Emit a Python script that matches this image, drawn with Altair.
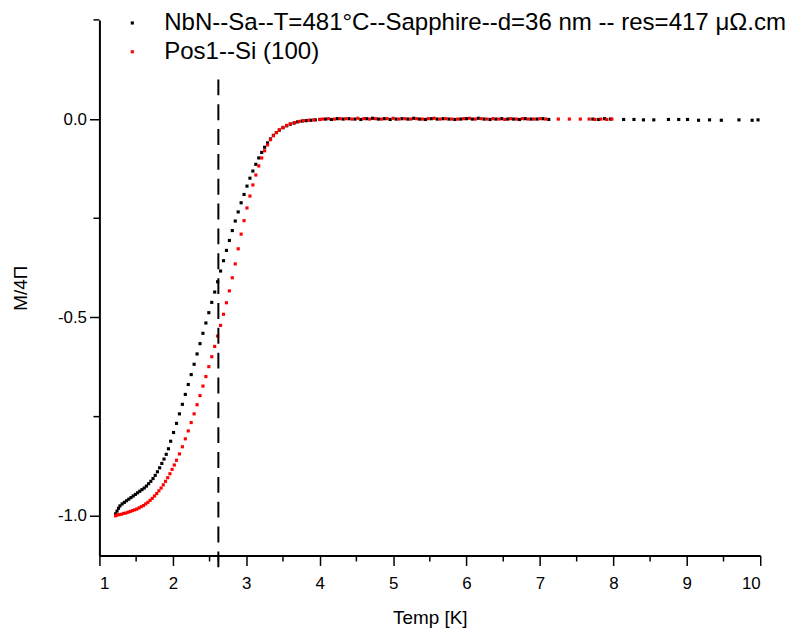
import altair as alt
import pandas as pd

LABEL_BLACK = "NbN--Sa--T=481°C--Sapphire--d=36 nm -- res=417 μΩ.cm"
LABEL_RED = "Pos1--Si (100)"

# ---- black series (NbN on sapphire) ----
black_T = [
    1.22, 1.24, 1.26, 1.28,
    1.31, 1.34, 1.37, 1.40, 1.43, 1.46, 1.49, 1.52, 1.55, 1.58,
    1.61, 1.64, 1.67, 1.70, 1.73, 1.76, 1.79, 1.82, 1.85, 1.88,
    1.91, 1.94, 1.97,
    2.01, 2.05, 2.09, 2.13, 2.17, 2.21, 2.25, 2.29, 2.33, 2.37,
    2.41, 2.45, 2.49, 2.53, 2.57, 2.61, 2.65, 2.69, 2.73, 2.77,
    2.81, 2.85, 2.89, 2.93, 2.97, 3.01, 3.05, 3.09, 3.13, 3.17,
    3.21, 3.25, 3.29, 3.33, 3.37, 3.41, 3.45,
    3.50, 3.55, 3.60, 3.65, 3.70, 3.76, 3.82, 3.88, 3.94, 4.00,
    4.08, 4.16, 4.24, 4.32, 4.40, 4.48, 4.56, 4.64, 4.72, 4.80,
    4.88, 4.96, 5.04, 5.12, 5.20, 5.28, 5.36, 5.44, 5.52, 5.60,
    5.68, 5.76, 5.84, 5.92, 6.00, 6.08, 6.16, 6.24, 6.32, 6.40,
    6.48, 6.56, 6.64, 6.72, 6.80, 6.88, 6.96, 7.04, 7.12,
    7.72, 7.80, 7.88, 7.96, 8.14, 8.28, 8.41, 8.55, 8.75, 8.89,
    9.01, 9.16, 9.31, 9.47, 9.71, 9.89, 9.97,
]
black_M = [
    -0.995, -0.988, -0.981, -0.975,
    -0.970, -0.966, -0.962, -0.958, -0.954, -0.950, -0.946, -0.942, -0.938, -0.934,
    -0.930, -0.925, -0.919, -0.913, -0.906, -0.898, -0.889, -0.879, -0.868, -0.857,
    -0.845, -0.831, -0.812,
    -0.790, -0.767, -0.743, -0.719, -0.694, -0.669, -0.644, -0.618, -0.592, -0.566,
    -0.540, -0.514, -0.488, -0.462, -0.436, -0.410, -0.383, -0.357, -0.331, -0.306,
    -0.281, -0.257, -0.234, -0.211, -0.190, -0.169, -0.149, -0.131, -0.114, -0.098,
    -0.084, -0.071, -0.060, -0.050, -0.041, -0.034, -0.028,
    -0.022, -0.017, -0.013, -0.010, -0.007, -0.005, -0.004, -0.003, -0.002, -0.001,
    0.000, -0.001, 0.001, 0.000, 0.001, 0.000, -0.001, 0.001, 0.002, 0.000,
    0.001, -0.001, 0.000, 0.001, 0.000, 0.002, 0.000, -0.001, 0.001, 0.000,
    0.001, 0.000, -0.001, 0.000, 0.001, 0.000, 0.002, 0.000, -0.001, 0.000,
    0.001, 0.000, 0.000, -0.001, 0.001, 0.000, 0.000, 0.001, -0.001,
    0.000, -0.001, 0.001, 0.000, -0.001, -0.001, -0.002, -0.002, -0.001, -0.001,
    -0.001, -0.003, -0.002, -0.003, -0.002, -0.003, -0.002,
]

# ---- red series (Pos1 on Si (100)) ----
red_T = [
    1.22, 1.24, 1.27,
    1.30, 1.33, 1.36, 1.39, 1.42, 1.45, 1.48, 1.51, 1.54, 1.57,
    1.60, 1.63, 1.66, 1.69, 1.72, 1.75, 1.78, 1.81, 1.84, 1.87,
    1.90, 1.93, 1.96, 1.99, 2.02, 2.05,
    2.09, 2.13, 2.17, 2.21, 2.25, 2.29, 2.33, 2.37, 2.41, 2.45,
    2.49, 2.53, 2.57, 2.61, 2.65, 2.69, 2.73, 2.77, 2.81, 2.85,
    2.89, 2.93, 2.97, 3.01, 3.05, 3.09, 3.13, 3.17, 3.21, 3.25,
    3.29, 3.33, 3.37, 3.41, 3.45,
    3.50, 3.55, 3.60, 3.66, 3.72, 3.78, 3.85, 3.92, 4.00,
    4.04, 4.12, 4.20, 4.28, 4.36, 4.44, 4.52, 4.60, 4.68, 4.76,
    4.84, 4.92, 5.00, 5.08, 5.16, 5.24, 5.32, 5.40, 5.48, 5.56,
    5.64, 5.72, 5.80, 5.88, 5.96, 6.04, 6.12, 6.20, 6.28, 6.36,
    6.44, 6.52, 6.60, 6.68, 6.76, 6.84, 6.92, 7.00, 7.08,
    7.25, 7.40, 7.55, 7.67, 7.75, 7.83, 7.91, 7.98,
]
red_M = [
    -1.000, -0.998, -0.997,
    -0.996, -0.994, -0.993, -0.991, -0.989, -0.987, -0.985, -0.983, -0.980, -0.977,
    -0.974, -0.970, -0.966, -0.961, -0.956, -0.950, -0.944, -0.937, -0.930, -0.922,
    -0.913, -0.904, -0.894, -0.883, -0.872, -0.860,
    -0.844, -0.826, -0.806, -0.786, -0.765, -0.743, -0.720, -0.697, -0.673, -0.649,
    -0.624, -0.599, -0.573, -0.547, -0.520, -0.492, -0.463, -0.433, -0.400, -0.365,
    -0.327, -0.290, -0.256, -0.224, -0.194, -0.166, -0.141, -0.118, -0.098, -0.080,
    -0.065, -0.052, -0.042, -0.034, -0.027,
    -0.021, -0.016, -0.012, -0.009, -0.006, -0.004, -0.003, -0.002, -0.001,
    0.000, 0.001, 0.000, 0.001, 0.001, 0.000, 0.002, 0.001, 0.000, 0.001,
    0.000, 0.001, 0.002, 0.000, 0.001, 0.000, 0.001, 0.000, 0.001, 0.002,
    0.000, 0.001, 0.000, 0.000, 0.001, 0.002, 0.000, 0.001, 0.000, 0.001,
    0.000, -0.001, 0.001, 0.000, 0.001, 0.000, 0.000, 0.001, 0.000,
    0.000, 0.000, 0.000, 0.000, -0.001, 0.000, -0.001, 0.000,
]

# dashed marker line (T, top, bottom)
marker_T = [2.62]
marker_top = [0.10]
marker_bottom = [-1.13]

# ticks
x_major = [1, 2, 3, 4, 5, 6, 7, 8, 9, 10]
x_minor = [1.5, 2.5, 2.62, 3.5, 4.5, 5.5, 6.5, 7.5, 8.5, 9.5]
y_major = [0.0, -0.5, -1.0]
y_minor = [0.25, -0.25, -0.75]

W, H = 665, 539

rows = [{"T": t, "M": m, "series": LABEL_BLACK} for t, m in zip(black_T, black_M)]
rows += [{"T": t, "M": m, "series": LABEL_RED} for t, m in zip(red_T, red_M)]
df = pd.DataFrame(rows)
marker_df = pd.DataFrame({"T": marker_T, "M": marker_top, "M2": marker_bottom})
xminor_df = pd.DataFrame({"T": x_minor})
yminor_df = pd.DataFrame({"M": y_minor})

FONT = "Liberation Sans"
x_scale = alt.Scale(domain=[1, 10], nice=False, zero=False)
y_scale = alt.Scale(domain=[-1.1, 0.25], nice=False, zero=False)

x_axis = alt.Axis(
    orient="bottom", values=x_major, title="Temp [K]", format="d", grid=False,
    tickSize=10, tickWidth=1.5, domainWidth=2, domainColor="black", tickColor="black",
    labelFontSize=17, labelPadding=10, labelColor="black", labelFont=FONT,
    titleFontSize=19, titleFont=FONT, titleFontWeight="normal", titlePadding=17, titleColor="black")
y_axis = alt.Axis(
    orient="left", values=y_major, title="M/4Π", grid=False,
    labelExpr="replace(format(datum.value, '.1f'), '\u2212', '-')",
    tickSize=10, tickWidth=1.5, domainWidth=2, domainColor="black", tickColor="black",
    labelFontSize=17, labelPadding=3, labelColor="black", labelFont=FONT,
    titleFontSize=19, titleFont=FONT, titleFontWeight="normal", titlePadding=27, titleColor="black")

X = alt.X("T:Q", scale=x_scale, axis=x_axis, title="Temp [K]")
Y = alt.Y("M:Q", scale=y_scale, axis=y_axis, title="M/4Π")

points = alt.Chart(df).mark_square(size=10, opacity=1).encode(
    x=X,
    y=Y,
    color=alt.Color("series:N",
        scale=alt.Scale(domain=[LABEL_BLACK, LABEL_RED], range=["#000000", "#ff0000"]),
        legend=alt.Legend(
            orient="none", legendX=21, legendY=-9, title=None,
            symbolType="square", symbolSize=10, symbolStrokeWidth=0,
            labelFontSize=24.2, labelFont=FONT, labelColor="black", labelOffset=20,
            labelLimit=2000, rowPadding=4, padding=0)),
)

marker = alt.Chart(marker_df).mark_rule(color="black", strokeWidth=2, strokeDash=[16, 9]).encode(
    x=X,
    y=Y,
    y2="M2:Q",
)

x_minor_ticks = alt.Chart(xminor_df).mark_rule(color="black", strokeWidth=1.5).encode(
    x=X,
    y=alt.value(H),
    y2=alt.value(H + 6),
)

y_minor_ticks = alt.Chart(yminor_df).mark_rule(color="black", strokeWidth=1.5).encode(
    y=Y,
    x=alt.value(0),
    x2=alt.value(-6),
)

chart = alt.layer(points, marker, x_minor_ticks, y_minor_ticks).properties(
    width=W, height=H,
    autosize=alt.AutoSizeParams(type="none"),
    padding={"left": 92, "top": 10, "right": 36, "bottom": 71},
    background="white",
).configure_view(stroke=None)

chart.save("out.html", embed_options={"renderer": "svg", "actions": False})
